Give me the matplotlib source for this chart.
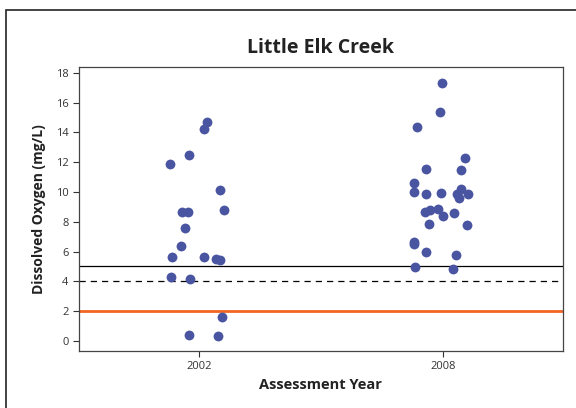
import matplotlib.pyplot as plt
from matplotlib.patches import Rectangle

# Little Elk Creek - dissolved oxygen readings by assessment year (jittered x)
x_2002 = [2002.20, 2002.12, 2001.75, 2001.29, 2002.51, 2002.61, 2001.58, 2001.74,
          2001.66, 2001.56, 2001.34, 2002.12, 2002.42, 2002.52, 2001.31, 2001.78,
          2002.57, 2001.75, 2002.47]
do_2002 = [14.71, 14.26, 12.47, 11.89, 10.14, 8.80, 8.66, 8.66,
           7.61, 6.40, 5.66, 5.66, 5.51, 5.46, 4.32, 4.16,
           1.63, 0.42, 0.36]

x_2008 = [2007.98, 2007.93, 2007.37, 2008.54, 2007.59, 2008.44, 2007.29, 2008.45,
          2007.29, 2007.59, 2007.95, 2008.35, 2008.61, 2008.39, 2007.56, 2007.69,
          2007.88, 2008.00, 2008.28, 2007.67, 2008.59, 2007.29, 2007.29, 2007.59,
          2008.33, 2007.31, 2008.25]
do_2008 = [17.31, 15.36, 14.35, 12.29, 11.55, 11.48, 10.61, 10.23,
           10.01, 9.87, 9.94, 9.89, 9.87, 9.60, 8.66, 8.82,
           8.84, 8.42, 8.58, 7.88, 7.81, 6.67, 6.53, 6.00,
           5.80, 4.99, 4.84]

year_ticks = [2002, 2008]
y_ticks = [0, 2, 4, 6, 8, 10, 12, 14, 16, 18]

# reference lines (mg/L)
line_solid = 5
line_dashed = 4
line_orange = 2

plt.rcParams['font.family'] = ['Open Sans', 'DejaVu Sans']

fig = plt.figure(figsize=(5.76, 4.08), dpi=100)
fig.patches.append(Rectangle((6 / 576, -0.05), 1.2, 1.05 - 10 / 408,
                             transform=fig.transFigure, fill=False,
                             edgecolor='#222222', linewidth=1.2))

ax = fig.add_axes([0.137, 0.140, 0.840, 0.696])

ax.axhline(line_solid, color='black', linewidth=0.9)
ax.axhline(line_dashed, color='black', linewidth=0.9, linestyle=(0, (5, 4)))
ax.axhline(line_orange, color='#f26522', linewidth=2.0)

dot = '#4a55a2'
ax.scatter(x_2002, do_2002, s=50, color=dot, zorder=3, linewidths=0)
ax.scatter(x_2008, do_2008, s=50, color=dot, zorder=3, linewidths=0)

ax.set_xlim(1999.05, 2010.95)
ax.set_ylim(-0.67, 18.4)
ax.set_xticks(year_ticks)
ax.set_yticks(y_ticks)
ax.tick_params(labelsize=8, colors='#333333', length=4, width=0.8)

for sp in ax.spines.values():
    sp.set_color('#444444')
    sp.set_linewidth(0.9)

ax.set_title('Little Elk Creek', fontsize=14, fontweight='bold', color='#222222', pad=10)
ax.set_xlabel('Assessment Year', fontsize=10.5, fontweight='bold', color='#222222', labelpad=4)
ax.set_ylabel('Dissolved Oxygen (mg/L)', fontsize=10, fontweight='bold', color='#222222', labelpad=7)

fig.savefig('out.png', dpi=100)
